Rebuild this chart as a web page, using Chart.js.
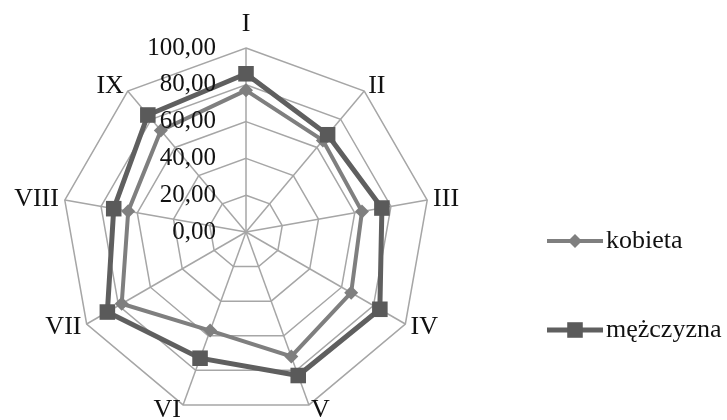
<!DOCTYPE html>
<html>
<head>
<meta charset="utf-8">
<script src="https://cdn.jsdelivr.net/npm/chart.js@4"></script>
<style>
  html, body { margin: 0; padding: 0; background: #fff; }
  #wrap { width: 727px; height: 420px; position: relative; }
</style>
</head>
<body>
<div id="wrap"><canvas id="chart"></canvas></div>
<script>
// axis labels and values
const axisLabels = ['I', 'II', 'III', 'IV', 'V', 'VI', 'VII', 'VIII', 'IX'];
const kobieta = [77, 65, 64, 66, 72, 57, 78, 65, 72];
const mezczyzna = [86, 69, 75, 84, 83, 73, 87, 73, 83];
const tickValues = [0, 20, 40, 60, 80, 100];

const SERIF = '"Liberation Serif", "Times New Roman", serif';
const fmtTick = (v) => v.toFixed(2).replace('.', ',');

// point labels + tick labels drawn off the radial scale
const radarText = {
  id: 'radarText',
  afterDatasetsDraw(chart) {
    const scale = chart.scales.r;
    const ctx = chart.ctx;
    ctx.save();
    ctx.fillStyle = '#111';

    // tick labels, left of the vertical axis
    ctx.font = '25px ' + SERIF;
    ctx.textAlign = 'right';
    ctx.textBaseline = 'middle';
    for (const v of tickValues) {
      const p = scale.getPointPositionForValue(0, v);
      ctx.fillText(fmtTick(v), p.x - 30, p.y);
    }

    // axis names
    ctx.font = '26px ' + SERIF;
    const r = scale.drawingArea;
    axisLabels.forEach((lab, i) => {
      const p = scale.getPointPosition(i, r + 6);
      const sx = (p.x - scale.xCenter) / (r + 6);
      let x = p.x, y = p.y;
      if (Math.abs(sx) < 0.05) {
        ctx.textAlign = 'center';
        y -= 18;
      } else {
        ctx.textAlign = sx > 0 ? 'left' : 'right';
      }
      ctx.textBaseline = 'middle';
      ctx.fillText(lab, x, y);
    });
    ctx.restore();
  }
};

// legend with line + marker sample
const sideLegend = {
  id: 'sideLegend',
  afterDraw(chart) {
    const ctx = chart.ctx;
    const rows = [241, 330];
    ctx.save();
    chart.data.datasets.forEach((ds, i) => {
      const y = rows[i];
      ctx.strokeStyle = ds.borderColor;
      ctx.lineWidth = ds.borderWidth;
      ctx.beginPath();
      ctx.moveTo(547, y);
      ctx.lineTo(603, y);
      ctx.stroke();
      ctx.fillStyle = ds.pointBackgroundColor;
      Chart.helpers.drawPoint(ctx, {
        pointStyle: ds.pointStyle,
        radius: ds.pointRadius,
        rotation: 0,
        borderWidth: 0
      }, 575, y);
      ctx.fillStyle = '#111';
      ctx.font = '26px ' + SERIF;
      ctx.textAlign = 'left';
      ctx.textBaseline = 'middle';
      ctx.fillText(ds.label, 606, y);
    });
    ctx.restore();
  }
};

new Chart(document.getElementById('chart'), {
  type: 'radar',
  data: {
    labels: axisLabels,
    datasets: [
      {
        label: 'kobieta',
        data: kobieta,
        borderColor: '#7f7f7f',
        borderWidth: 4,
        pointStyle: 'rectRot',
        pointRadius: 7,
        pointBackgroundColor: '#7f7f7f',
        pointBorderWidth: 0,
        fill: false,
        order: 1
      },
      {
        label: 'mężczyzna',
        data: mezczyzna,
        borderColor: '#5f5f5f',
        borderWidth: 5,
        pointStyle: 'rect',
        pointRadius: 11,
        pointBackgroundColor: '#5a5a5a',
        pointBorderWidth: 0,
        fill: false,
        order: 0
      }
    ]
  },
  options: {
    responsive: true,
    maintainAspectRatio: false,
    animation: false,
    layout: { padding: { left: 62, right: 297, top: 48, bottom: 4 } },
    scales: {
      r: {
        min: 0,
        max: 100,
        ticks: { stepSize: 20, display: false },
        grid: { color: '#a6a6a6', lineWidth: 1.5 },
        angleLines: { color: '#a6a6a6', lineWidth: 1.5 },
        pointLabels: { display: false }
      }
    },
    plugins: {
      legend: { display: false },
      tooltip: { enabled: false }
    }
  },
  plugins: [radarText, sideLegend]
});
</script>
</body>
</html>
